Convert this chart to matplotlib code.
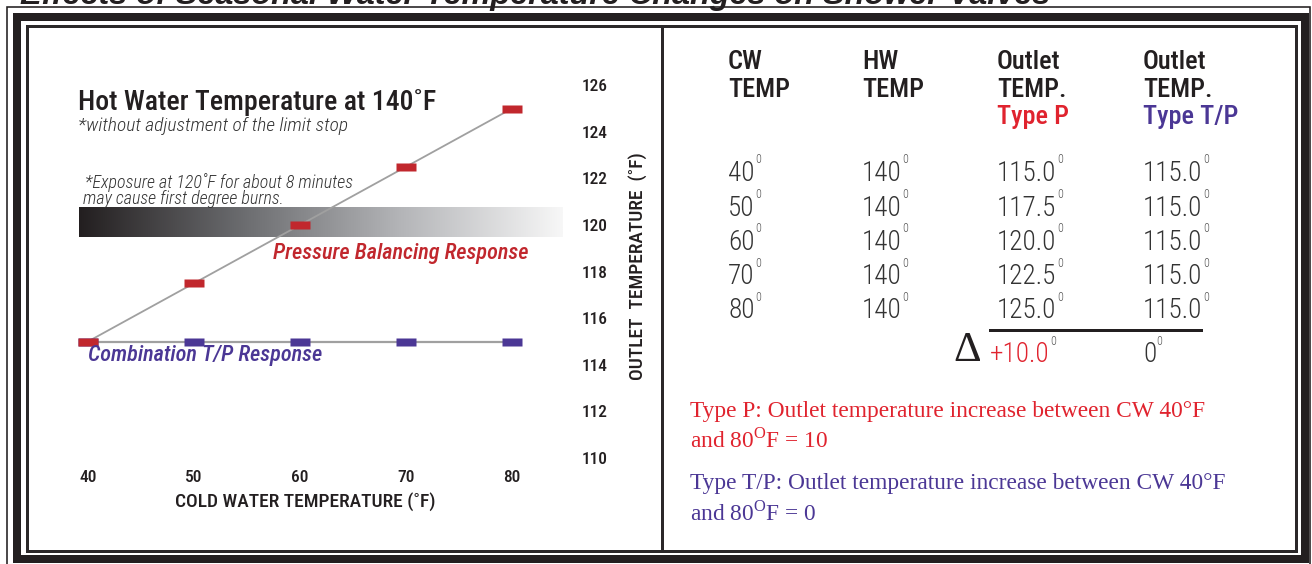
import matplotlib
matplotlib.use('Agg')
import matplotlib.pyplot as plt
import numpy as np
from matplotlib.patches import Rectangle
from matplotlib.lines import Line2D
from matplotlib.colors import LinearSegmentedColormap

# ---------------- data ----------------
cw_temp = [40, 50, 60, 70, 80]
hw_temp = [140, 140, 140, 140, 140]
outlet_type_p = [115.0, 117.5, 120.0, 122.5, 125.0]
outlet_type_tp = [115.0, 115.0, 115.0, 115.0, 115.0]
y_ticks = [110, 112, 114, 116, 118, 120, 122, 124, 126]
burn_temp = 120

W, H = 1312, 564
plt.rcParams['mathtext.fontset'] = 'custom'
plt.rcParams['mathtext.rm'] = 'Liberation Serif'
fig = plt.figure(figsize=(W / 100, H / 100), dpi=100)

NARROW = ['Roboto Condensed', 'DejaVu Sans']
SANS = ['Liberation Sans', 'DejaVu Sans']
SERIF = ['Liberation Serif', 'DejaVu Serif']

RED = '#c1272d'
RED2 = '#e0232e'
PURPLE = '#4b3795'
INK = '#231f20'


def fx(px):
    return px / W


def fy(py):
    return 1 - py / H


def T(px, py, s, **kw):
    kw.setdefault('va', 'center')
    kw.setdefault('ha', 'left')
    return fig.text(fx(px), fy(py), s, **kw)


# ---------------- frame ----------------
def frame(x0, y0, x1, y1, lw_px, color):
    fig.add_artist(Rectangle((fx(x0), fy(y1)), fx(x1) - fx(x0), fy(y0) - fy(y1),
                             transform=fig.transFigure, fill=False,
                             lw=lw_px * 0.72, ec=color, zorder=5))


frame(7, 7, 1310, 575, 1.6, INK)
frame(17, 16.5, 1305, 558.5, 8, INK)
frame(26.5, 25.5, 1296, 550.5, 3, '#2b2829')
fig.add_artist(Line2D([fx(661.5), fx(661.5)], [fy(25.5), fy(550.5)],
                      transform=fig.transFigure, lw=3 * 0.72, color='#2b2829'))

# cut-off page title at the very top
fig.text(fx(20), fy(4), "Effects of Seasonal Water Temperature Changes on Shower Valves",
         fontsize=23.3, weight='bold', style='italic', family=SANS, color=INK,
         va='baseline', ha='left')

# ---------------- chart ----------------
px_x = (512 - 88) / 40.0
px_y = 23.3
ax_l, ax_r, ax_t, ax_b = 60, 570, 60, 462
ax = fig.add_axes([fx(ax_l), fy(ax_b), fx(ax_r) - fx(ax_l), fy(ax_t) - fy(ax_b)])
ax.set_xlim(40 + (ax_l - 88) / px_x, 40 + (ax_r - 88) / px_x)
ax.set_ylim(120 - (ax_b - 225) / px_y, 120 + (225 - ax_t) / px_y)
for s in ax.spines.values():
    s.set_visible(False)
ax.patch.set_alpha(0)

# burn-exposure gradient band
cmap = LinearSegmentedColormap.from_list('burn', ['#231f20', '#6a6b6e', '#b4b5b8', '#f7f7f7'])
ax.imshow(np.linspace(0, 1, 256)[None, :], cmap=cmap, aspect='auto',
          extent=[39.15, 84.8, burn_temp - 0.52, burn_temp + 0.73], zorder=1,
          interpolation='bilinear')

rect = [(-1, -0.42), (1, -0.42), (1, 0.42), (-1, 0.42), (-1, -0.42)]
ax.plot(cw_temp, outlet_type_tp, color='#a0a0a0', lw=1.6, zorder=2)
ax.plot(cw_temp, outlet_type_p, color='#a0a0a0', lw=1.3, zorder=2)
ax.plot(cw_temp, outlet_type_tp, ls='none', marker=rect, ms=14, mfc=PURPLE, mec='none', zorder=4)
ax.plot(cw_temp, outlet_type_p, ls='none', marker=rect, ms=14, mfc=RED, mec='none', zorder=5)

ax.set_xticks(cw_temp)
ax.set_xticklabels([str(v) for v in cw_temp])
ax.yaxis.tick_right()
ax.set_yticks(y_ticks)
ax.set_yticklabels([str(v) for v in y_ticks])
ax.tick_params(axis='both', length=0, labelsize=12.5, labelcolor=INK)
ax.tick_params(axis='x', pad=5.5)
ax.tick_params(axis='y', pad=8.5)
for lab in ax.get_xticklabels() + ax.get_yticklabels():
    lab.set_family(NARROW)
    lab.set_weight(500)

ax.set_xlabel("COLD WATER TEMPERATURE (˚F)", family=NARROW, fontsize=14,
              weight=500, color=INK, va='center')
ax.xaxis.set_label_coords((305 - ax_l) / (ax_r - ax_l), -(502 - ax_b) / (ax_b - ax_t))
ax.yaxis.set_label_position('right')
ax.set_ylabel("OUTLET  TEMPERATURE  (˚F)", family=NARROW, fontsize=14,
              weight=500, color=INK, rotation=90, va='center')
ax.yaxis.set_label_coords((638 - ax_l) / (ax_r - ax_l), 1 - (266 - ax_t) / (ax_b - ax_t))

T(78, 102, "Hot Water Temperature at 140˚F", family=NARROW, fontsize=20, weight=500, color=INK)
T(78, 126, "*without adjustment of the limit stop", family=NARROW, fontsize=14,
  style='italic', weight=300, color='#333333')
T(85, 183, "*Exposure at 120˚F for about 8 minutes", family=NARROW, fontsize=13,
  style='italic', weight=300, color='#333333')
T(83, 199, "may cause first degree burns.", family=NARROW, fontsize=13,
  style='italic', weight=300, color='#333333')
T(273, 254, "Pressure Balancing Response", family=NARROW, fontsize=16,
  style='italic', weight=500, color=RED)
T(88, 355, "Combination T/P Response", family=NARROW, fontsize=16,
  style='italic', weight=500, color=PURPLE)

# ---------------- table ----------------
col_x = [728, 862, 997, 1143]
HEAD = dict(family=NARROW, fontsize=19, weight=500)
T(col_x[0], 62, "CW", color=INK, **HEAD)
T(col_x[0], 90, "TEMP", color=INK, **HEAD)
T(col_x[1], 62, "HW", color=INK, **HEAD)
T(col_x[1], 90, "TEMP", color=INK, **HEAD)
T(col_x[2], 62, "Outlet", color=INK, **HEAD)
T(col_x[2], 90, "TEMP.", color=INK, **HEAD)
T(col_x[2], 117, "Type P", color=RED2, **HEAD)
T(col_x[3], 62, "Outlet", color=INK, **HEAD)
T(col_x[3], 90, "TEMP.", color=INK, **HEAD)
T(col_x[3], 117, "Type T/P", color=PURPLE, **HEAD)


def deg_text(px, py, s, color='#333333', size=19.5):
    t = T(px, py, s, family=NARROW, fontsize=size, weight=300, color=color)
    ax.annotate("0", xy=(1, 1), xycoords=t, xytext=(0.3, 5), textcoords='offset points',
                family=NARROW, fontsize=8.5, weight=300, color='#555555', ha='left', va='top',
                annotation_clip=False)
    return t


row_y = [173, 208, 242, 277, 311]
for i, yy in enumerate(row_y):
    deg_text(col_x[0], yy, f"{cw_temp[i]}")
    deg_text(col_x[1], yy, f"{hw_temp[i]}")
    deg_text(col_x[2], yy, f"{outlet_type_p[i]:.1f}")
    deg_text(col_x[3], yy, f"{outlet_type_tp[i]:.1f}")

fig.add_artist(Line2D([fx(990), fx(1201)], [fy(330), fy(330)],
                      transform=fig.transFigure, lw=3 * 0.72, color=INK))
T(953, 351, "Δ", family=SERIF, fontsize=31, color=INK)
d_p = outlet_type_p[-1] - outlet_type_p[0]
d_tp = outlet_type_tp[-1] - outlet_type_tp[0]
deg_text(990, 355, f"+{d_p:.1f}", color=RED2)
deg_text(col_x[3], 355, f"{d_tp:g}")

# ---------------- notes ----------------
NOTE = dict(family=SERIF, fontsize=16.8)
T(690, 412, "Type P: Outlet temperature increase between CW 40°F", color=RED2, **NOTE)
T(690, 440, r"and 80$^{\mathrm{O}}$F = " + f"{d_p:g}", color=RED2, **NOTE)
T(690, 484, "Type T/P: Outlet temperature increase between CW 40°F", color=PURPLE, **NOTE)
T(690, 513, r"and 80$^{\mathrm{O}}$F = " + f"{d_tp:g}", color=PURPLE, **NOTE)

fig.savefig('out.png', dpi=100)
